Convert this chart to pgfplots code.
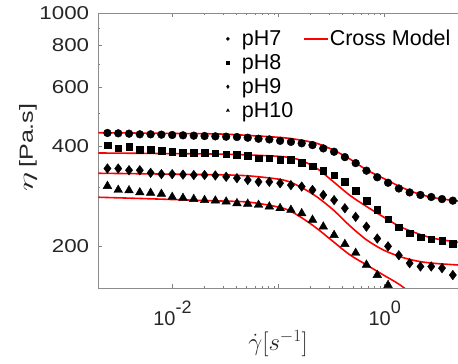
\documentclass[border=0pt]{standalone}
\usepackage{graphicx}
\usepackage{fontspec}
\setmainfont{Liberation Sans}
\usepackage{pgfplots}
\pgfplotsset{compat=1.18}
\newcommand{\ytl}[1]{\scalebox{1.2}[1]{#1}}
\newcommand{\xtl}[1]{10\raisebox{12bp}{\fontsize{18bp}{18bp}\selectfont #1}}
\begin{document}
\begin{tikzpicture}
\begin{axis}[
  scale only axis,
  width=359.7bp, height=275bp,
  xmode=log, ymode=log,
  xmin=0.002, xmax=4.9,
  ymin=150, ymax=1000,
  axis x line*=box, axis y line*=left,
  axis line style={black!45, line width=0.6bp},
  every tick/.style={black!50, line width=0.5bp},
  major tick length=4bp, minor tick length=2.2bp,
  xtick={0.01,0.1,1},
  xticklabels={\xtl{-2},,\xtl{0}},
  ytick={200,400,600,800,1000},
  yticklabels={\ytl{200},\ytl{400},\ytl{600},\ytl{800},\ytl{1000}},
  minor ytick={300,500,700,900},
  xticklabel style={font=\fontsize{20bp}{22bp}\selectfont, text=black!85, anchor=base, inner sep=0pt, yshift=-37.7bp},
  yticklabel style={font=\fontsize{18.6bp}{20bp}\selectfont, text=black!85, anchor=east, inner sep=0pt, xshift=-9bp},
  xlabel={$\dot{\gamma}[s^{-1}]$},
  xlabel style={at={([yshift=-56bp]rel axis cs:0.5,0)}, anchor=center, font=\fontsize{27bp}{30bp}\selectfont, text=black!85},
  ylabel={\scalebox{1.8}[1]{$\eta$}\hspace{5bp}\scalebox{1.32}[1]{[Pa.s]}},
  ylabel style={at={([xshift=-70.3bp]rel axis cs:0,0.51)}, anchor=center, font=\fontsize{19bp}{21bp}\selectfont, text=black!85},
  legend columns=2,
  legend cell align=left,
  legend style={draw=none, fill=none, inner sep=0pt, row sep=0.9bp,
    at={(rel axis cs:0.3553,0.9484)}, anchor=north west,
    font=\fontsize{21.5bp}{24bp}\selectfont,
    nodes={inner sep=1bp, text height=17bp, text depth=4bp},
    /tikz/every odd column/.append style={column sep=11.4bp},
    /tikz/every even column/.append style={column sep=9.2bp}},
]
% pH7
\addplot[only marks, mark=*, mark size=3.9bp, black, forget plot] coordinates {
(0.002438,437) (0.003081,436) (0.003895,435) (0.004923,433) (0.006222,433)
(0.007864,432) (0.009936,431) (0.01256,430) (0.01587,429) (0.02006,428)
(0.02535,427) (0.03204,426) (0.04050,425) (0.05118,423) (0.06468,420)
(0.08175,418) (0.1033,414) (0.1306,411) (0.1650,407) (0.2086,402)
(0.2636,393) (0.3332,384) (0.4211,370) (0.5322,355) (0.6726,337)
(0.8502,322) (1.0745,310) (1.358,298) (1.716,290) (2.169,285)
(2.742,281) (3.465,277) (4.380,274)};
% pH8
\addplot[only marks, mark=square*, mark size=3.3bp, black, forget plot] coordinates {
(0.002438,402) (0.003081,393) (0.003895,397) (0.004923,390) (0.006222,390)
(0.007864,387) (0.009936,384) (0.01256,382) (0.01587,382) (0.02006,381)
(0.02535,380) (0.03204,378) (0.04050,377) (0.05118,373) (0.06468,367)
(0.08175,367) (0.1033,364) (0.1306,363) (0.1650,356) (0.2086,348)
(0.2636,337) (0.3332,327) (0.4211,312) (0.5322,294) (0.6726,274)
(0.8502,257) (1.0745,241) (1.358,228) (1.716,219) (2.169,213)
(2.742,210) (3.465,208) (4.380,204)};
% pH9
\addplot[only marks, mark=diamond*, mark size=4.8bp, black, forget plot] coordinates {
(0.002438,342) (0.003081,342) (0.003895,338) (0.004923,338) (0.006222,332)
(0.007864,329) (0.009936,329) (0.01256,328) (0.01587,327) (0.02006,327)
(0.02535,326) (0.03204,323) (0.04050,320) (0.05118,316) (0.06468,312)
(0.08175,312) (0.1033,309) (0.1306,305) (0.1650,302) (0.2086,295)
(0.2636,285) (0.3332,275) (0.4211,260) (0.5322,245) (0.6726,229)
(0.8502,211) (1.0745,200) (1.358,188) (1.716,178) (2.169,174)
(2.742,174) (3.465,172) (4.380,164)};
% pH10
\addplot[only marks, mark=triangle*, mark size=5bp, black, forget plot] coordinates {
(0.002438,303) (0.003081,295) (0.003895,294) (0.004923,290) (0.006222,289)
(0.007864,287) (0.009936,281) (0.01256,279) (0.01587,277) (0.02006,275)
(0.02535,274) (0.03204,272) (0.04050,269) (0.05118,268) (0.06468,266)
(0.08175,263) (0.1033,260) (0.1306,257) (0.1650,251) (0.2086,240)
(0.2636,229) (0.3332,216) (0.4211,203) (0.5322,191) (0.6726,176)
(0.8502,164) (1.0745,153)};
% Cross model fits
\addplot[red, line width=1.6bp, smooth, forget plot] coordinates {
(0.002,437.9) (0.00492,436.7) (0.01173,435.5) (0.0279,434) (0.0536,429.5)
(0.1105,423) (0.1588,416.4) (0.2283,407) (0.3275,388.7) (0.4707,365)
(0.6763,338.6) (0.9701,319.7) (1.394,301.8) (2.004,288.3) (2.874,279.7) (4.915,273.3)};
\addplot[red, line width=1.6bp, smooth, forget plot] coordinates {
(0.002,380.7) (0.00492,379.9) (0.01173,378.9) (0.0279,377.8) (0.0536,375.5)
(0.1105,371.1) (0.1588,362.8) (0.2283,342.6) (0.3275,312.4) (0.4707,284)
(0.6763,263) (0.9701,245) (1.394,229) (2.004,218.8) (2.874,211.3) (4.915,205.6)};
\addplot[red, line width=1.6bp, smooth, forget plot] coordinates {
(0.002,331) (0.00492,329.9) (0.01173,328.7) (0.0279,327.6) (0.0536,324.9)
(0.1105,316) (0.1588,301.8) (0.2283,281.6) (0.3275,257) (0.4707,230.1)
(0.6763,208.9) (0.9701,195) (1.394,186.2) (2.004,180.7) (2.874,177.9) (4.915,175.8)};
\addplot[red, line width=1.6bp, smooth, forget plot] coordinates {
(0.002,280.5) (0.00492,278.2) (0.01173,275.7) (0.0279,273.4) (0.0536,271)
(0.1105,260) (0.1588,245.4) (0.2283,226.5) (0.3275,206.5) (0.4707,188.4)
(0.6763,175.8) (0.9701,164.1) (1.394,153.2) (2.004,140)};
% legend
\addlegendimage{only marks, mark=*, mark size=1.6bp, black}
\addlegendentry{pH7}
\addlegendimage{red, line width=1.3bp, legend image code/.code={\draw[red, line width=1.3bp] (0bp,0bp) -- (23.4bp,0bp);}}
\addlegendentry{\hspace{-10.8bp}Cross Model}
\addlegendimage{only marks, mark=square*, mark size=1.3bp, black}
\addlegendentry{pH8}
\addlegendimage{empty legend}
\addlegendentry{}
\addlegendimage{only marks, mark=diamond*, mark size=1.8bp, black}
\addlegendentry{pH9}
\addlegendimage{empty legend}
\addlegendentry{}
\addlegendimage{only marks, mark=triangle*, mark size=1.8bp, black}
\addlegendentry{pH10}
\coordinate (ll) at (rel axis cs:0,0);
\coordinate (ur) at (rel axis cs:1,1);
\end{axis}
\pgfresetboundingbox
\path ([shift={(-98.3bp,-76bp)}]ll) rectangle ([shift={(0bp,13bp)}]ur);
\end{tikzpicture}
\end{document}
